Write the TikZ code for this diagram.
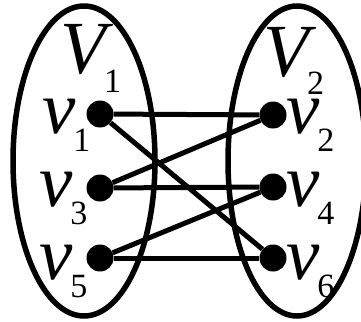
\documentclass[tikz,border=0pt]{standalone}
\usepackage{fontspec}
\setmainfont{Liberation Serif}[ItalicFont={Liberation Serif Italic}]
\usetikzlibrary{positioning}
\newcommand{\bigit}{\fontsize{75}{75}\selectfont\itshape}
\newcommand{\smallsub}{\fontsize{34}{34}\selectfont\upshape}
\newcommand{\setlbl}[2]{{\bigit #1}\kern-2pt\raisebox{-18pt}{\smallsub #2}}

\begin{document}
\begin{tikzpicture}[x=1pt,y=-1pt,
    vertex/.style={circle, fill=black, inner sep=0pt, minimum size=27pt},
    edge/.style={line width=5pt},
    part/.style={line width=5.5pt},
    lbl/.style={inner sep=0pt, anchor=base west}]
        \useasboundingbox (0,0) rectangle (361,321);

        % the two parts
        \draw[part] (84,161) ellipse [x radius=71, y radius=155];
        \draw[part] (297,161) ellipse [x radius=69, y radius=155];

        % vertices, left part V1
        \node[vertex] (v1) at (100,114) {};
        \node[vertex] (v3) at (100,188) {};
        \node[vertex] (v5) at (100,258) {};
        % vertices, right part V2
        \node[vertex] (v2) at (273,115) {};
        \node[vertex] (v4) at (273,187) {};
        \node[vertex] (v6) at (273,258) {};

        % edges
        \draw[edge] (v1) -- (v2);
        \draw[edge] (v1) -- (v6);
        \draw[edge] (v3) -- (v2);
        \draw[edge] (v3) -- (v4);
        \draw[edge] (v5) -- (v4);
        \draw[edge] (v5) -- (v6);

        % labels
        \node[lbl] (V1) at (60,74) {\setlbl{V}{1}};
        \node[lbl] (V2) at (263,76) {\setlbl{V}{2}};
        \node[lbl] (l1) at (42,133) {\setlbl{v}{1}};
        \node[lbl] (l3) at (39,206) {\setlbl{v}{3}};
        \node[lbl] (l5) at (39,279) {\setlbl{v}{5}};
        \node[lbl] (l2) at (286,133) {\setlbl{v}{2}};
        \node[lbl] (l4) at (286,206) {\setlbl{v}{4}};
        \node[lbl] (l6) at (286,279) {\setlbl{v}{6}};

    \end{tikzpicture}
\end{document}
